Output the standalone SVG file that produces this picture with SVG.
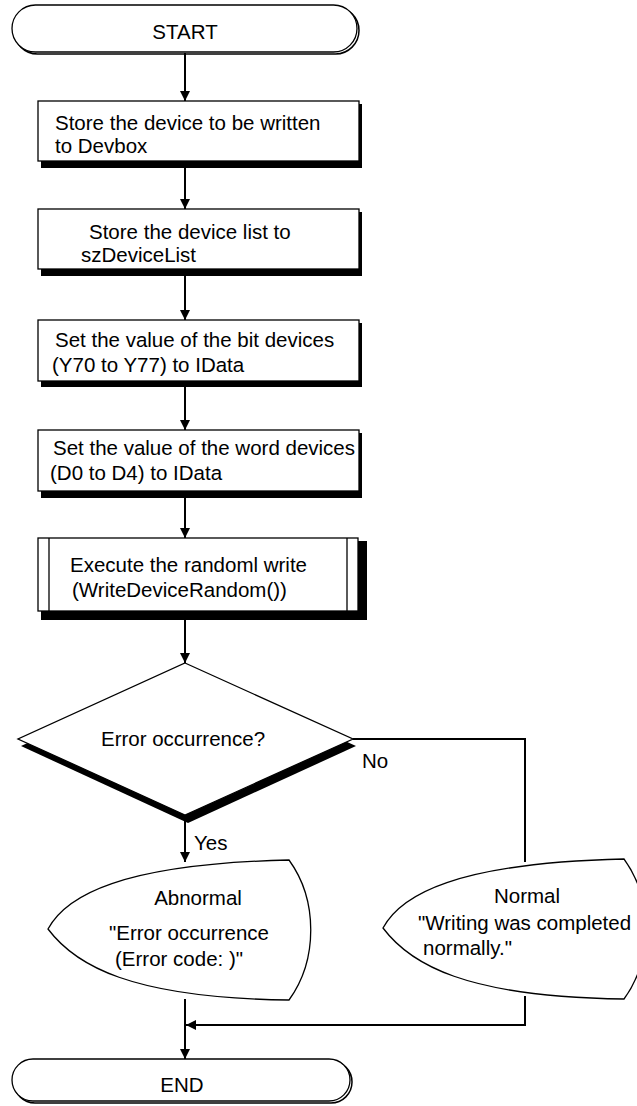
<svg xmlns="http://www.w3.org/2000/svg" width="637" height="1106" viewBox="0 0 637 1106">
<style>
.t{font-family:"Liberation Sans",Arial,sans-serif;font-size:20.5px;fill:#000}
.s{fill:#fff;stroke:#000;stroke-width:1.3}
.sh{fill:#000;stroke:none}
.c{fill:none;stroke:#000;stroke-width:2}
</style>
<defs>
<marker id="ah" markerWidth="10" markerHeight="10" refX="10" refY="5" orient="auto" markerUnits="userSpaceOnUse">
<path d="M0,0 L10,5 L0,10 Z" fill="#000"/>
</marker>
</defs>
<g id="connectors">
<line class="c" x1="185" y1="53" x2="185" y2="101" marker-end="url(#ah)"/>
<line class="c" x1="185" y1="167" x2="185" y2="209" marker-end="url(#ah)"/>
<line class="c" x1="185" y1="275" x2="185" y2="320" marker-end="url(#ah)"/>
<line class="c" x1="185" y1="387" x2="185" y2="430" marker-end="url(#ah)"/>
<line class="c" x1="185" y1="498" x2="185" y2="538" marker-end="url(#ah)"/>
<line class="c" x1="185" y1="620" x2="185" y2="663" marker-end="url(#ah)"/>
<line class="c" x1="185" y1="818" x2="185" y2="862" marker-end="url(#ah)"/>
<polyline class="c" points="353,739 525,739 525,862"/>
<line class="c" x1="185" y1="999" x2="185" y2="1059" marker-end="url(#ah)"/>
<polyline class="c" points="525,996 525,1025 186,1025" marker-end="url(#ah)"/>
<text class="t" x="362" y="768">No</text>
<text class="t" x="194" y="850">Yes</text>
</g>
<g id="start">
<rect x="14" y="7" width="345" height="47" rx="23.5" fill="none" stroke="#000" stroke-width="1.5"/>
<rect class="s" x="12" y="5" width="345" height="47" rx="23.5"/>
<text class="t" x="185" y="39" text-anchor="middle">START</text>
</g>
<g id="box1">
<rect class="sh" x="41" y="104" width="321" height="64"/>
<rect class="s" x="38" y="101" width="321" height="60"/>
<text class="t" x="55" y="130">Store the device to be written</text>
<text class="t" x="55" y="153">to Devbox</text>
</g>
<g id="box2">
<rect class="sh" x="41" y="212" width="321" height="64"/>
<rect class="s" x="38" y="209" width="321" height="60"/>
<text class="t" x="89" y="239">Store the device list to</text>
<text class="t" x="81" y="262">szDeviceList</text>
</g>
<g id="box3">
<rect class="sh" x="41" y="323" width="321" height="64"/>
<rect class="s" x="38" y="320" width="321" height="61"/>
<text class="t" x="55" y="347">Set the value of the bit devices</text>
<text class="t" x="52" y="372">(Y70 to Y77) to IData</text>
</g>
<g id="box4">
<rect class="sh" x="41" y="433" width="321" height="65"/>
<rect class="s" x="38" y="430" width="321" height="61"/>
<text class="t" x="53" y="455">Set the value of the word devices</text>
<text class="t" x="50" y="480">(D0 to D4) to IData</text>
</g>
<g id="box5">
<rect class="sh" x="41" y="541" width="326" height="79"/>
<rect class="s" x="38" y="538" width="320" height="73"/>
<line x1="49" y1="538" x2="49" y2="611" stroke="#000" stroke-width="1.3"/>
<line x1="347" y1="538" x2="347" y2="611" stroke="#000" stroke-width="1.3"/>
<text class="t" x="70" y="572">Execute the randoml write</text>
<text class="t" x="72" y="597">(WriteDeviceRandom())</text>
</g>
<g id="decision">
<polygon class="sh" points="188,670 356,746 188,823 21,746"/>
<polygon class="s" points="185,663 353,739 185,815 18,739"/>
<text class="t" x="183" y="746" text-anchor="middle">Error occurrence?</text>
</g>
<g id="abnormal">
<path class="s" d="M48,929 C66,896 120,864 289,860 C318,900 318,960 289,1000 C130,998 75,965 48,929 Z"/>
<text class="t" x="198" y="905" text-anchor="middle">Abnormal</text>
<text class="t" x="109" y="940">"Error occurrence</text>
<text class="t" x="115" y="966">(Error code: )"</text>
</g>
<g id="normal">
<path class="s" d="M383,928 C401,895 455,863 624,859 C653,899 653,959 624,999 C465,997 410,964 383,928 Z"/>
<text class="t" x="527" y="903" text-anchor="middle">Normal</text>
<text class="t" x="418" y="930">"Writing was completed</text>
<text class="t" x="423" y="955">normally."</text>
</g>
<g id="end">
<rect x="14" y="1061" width="338" height="42" rx="21" fill="none" stroke="#000" stroke-width="1.5"/>
<rect class="s" x="12" y="1059" width="338" height="42" rx="21"/>
<text class="t" x="182" y="1092" text-anchor="middle">END</text>
</g>
</svg>
